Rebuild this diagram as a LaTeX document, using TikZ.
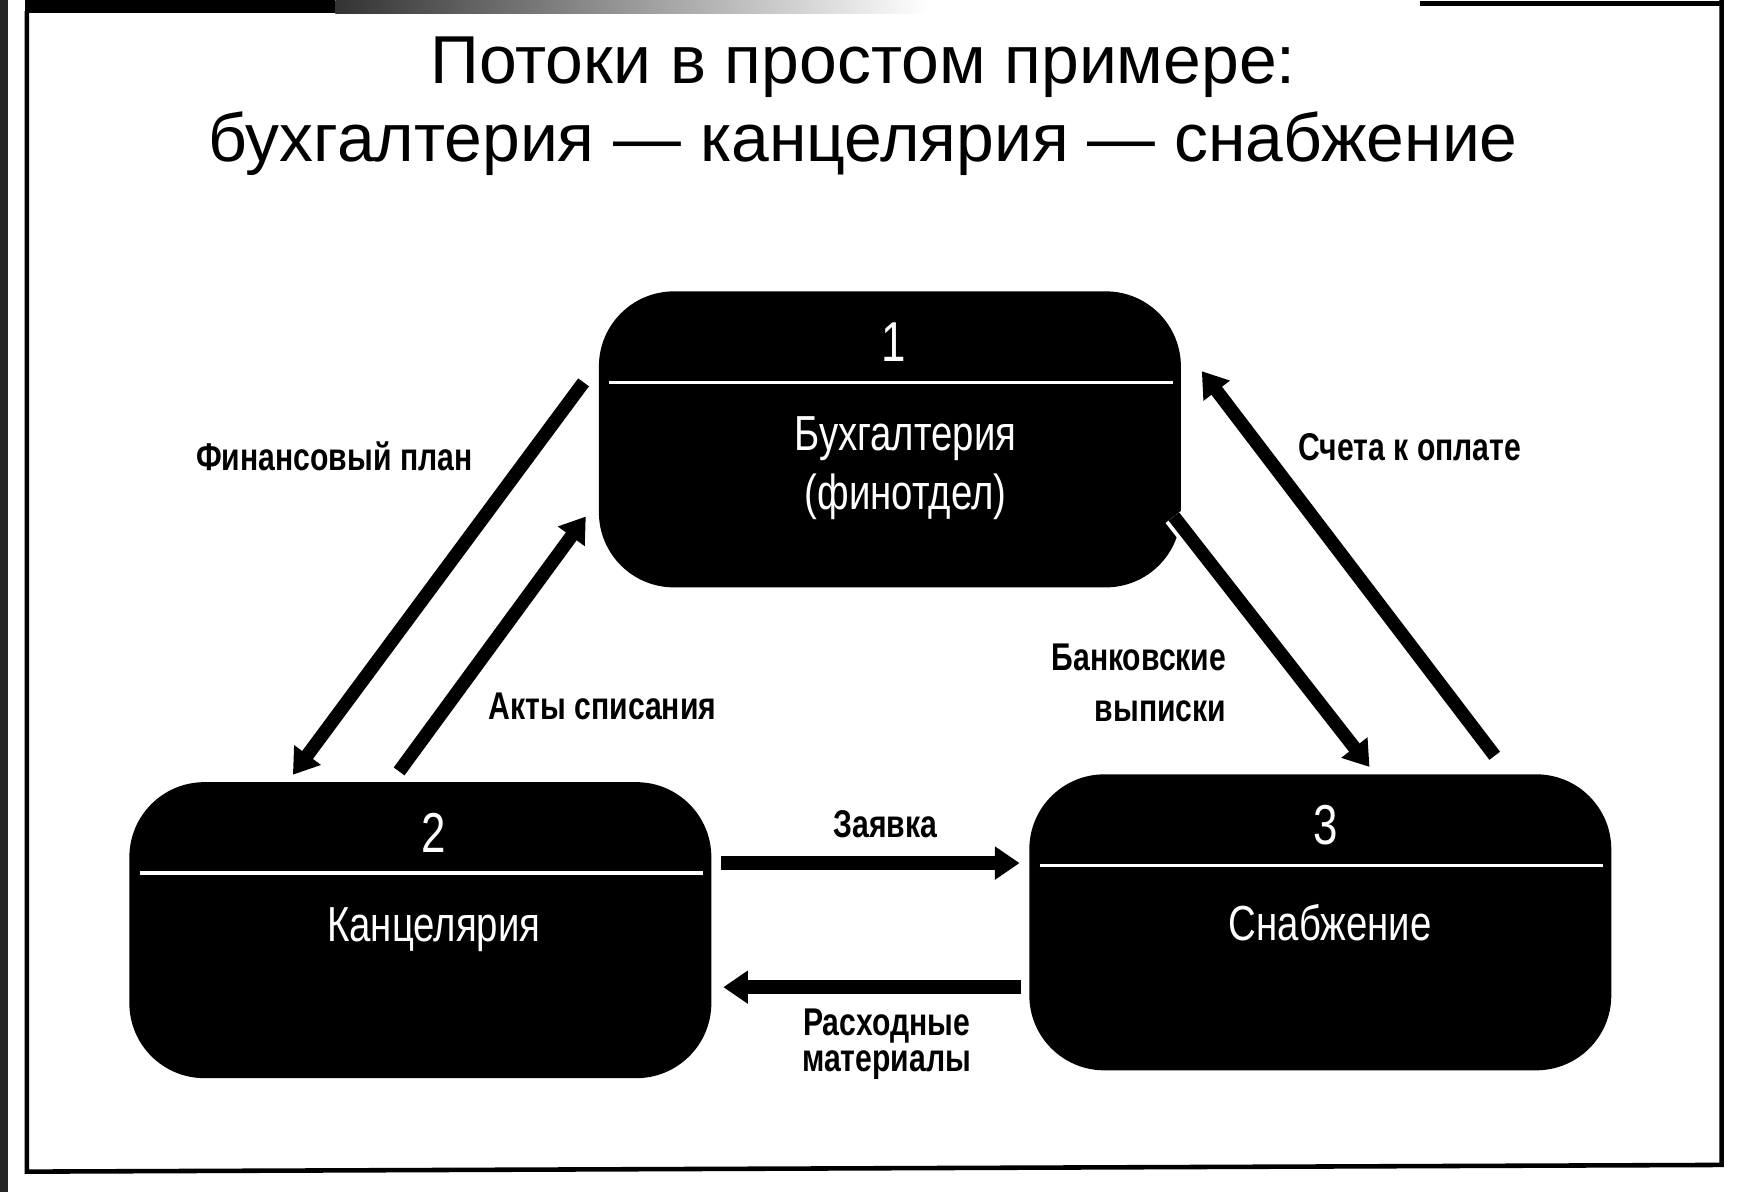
\documentclass[tikz,border=0pt]{standalone}
\usepackage{fontspec}
\setmainfont{Liberation Sans}
\newfontfamily\narrowfont[FakeStretch=0.78]{Liberation Sans}
\usetikzlibrary{arrows.meta,positioning,calc}

\begin{document}
\begin{tikzpicture}[
    x=0.1118mm, y=-0.1118mm,
    procbox/.style={rectangle, rounded corners=7.5mm, fill=black, minimum width=58.2mm, minimum height=29.6mm, inner sep=0pt},
    boxnum/.style={text=white, font=\narrowfont\fontsize{16}{18}\selectfont},
    boxtext/.style={text=white, align=center, font=\narrowfont\fontsize{14}{16.8}\selectfont},
    flowlabel/.style={align=center, font=\narrowfont\bfseries\fontsize{11}{14.6}\selectfont},
    flow/.style={line width=3.8pt, -{Triangle[length=7pt,width=9pt]}},
    outlined/.style={preaction={draw=white, line width=6pt, -}}
]
\useasboundingbox (0,0) rectangle (1560,1066);

% scanned page edges
\fill[black!85] (0,0) rectangle (7,1066);
\fill[black] (22,0) rectangle (300,12);
\shade[left color=black!80, right color=white] (300,0) rectangle (830,12);
\draw[line width=1.3pt] (24,10) -- (24,1048) -- (1540,1042) -- (1540,0);
\draw[line width=1.3pt] (1270,3) -- (1540,3);

% title
\node[align=center, font=\fontsize{19.3}{22}\selectfont] (title) at (772,95)
    {Потоки в простом примере:\\бухгалтерия — канцелярия — снабжение};

% processes
\node[procbox] (b1) at (796,393) {};
\node[procbox] (b2) at (376,832) {};
\node[procbox] (b3) at (1181,825) {};

\foreach \b/\n/\dx in {b1/1/3, b2/2/12, b3/3/5} {
    \draw[white, line width=1pt] ($(\b.north west)+(10,82)$) -- ($(\b.north east)+(-8,82)$);
    \node[boxnum] (\b-num) at ($(\b.north)+(\dx,46)$) {\n};
}
\node[boxtext] (b1-name) at ($(b1.north)+(14,159)$) {Бухгалтерия\\(финотдел)};
\node[boxtext] (b2-name) at ($(b2.north)+(12,133)$) {Канцелярия};
\node[boxtext] (b3-name) at ($(b3.north)+(9,133)$) {Снабжение};

% flow ends
\coordinate (plan-s) at (522,342);  \coordinate (plan-e) at (262,693);
\coordinate (akt-s) at (357,690);   \coordinate (akt-e) at (524,462);
\coordinate (bank-s) at (1050,462); \coordinate (bank-e) at (1225,686);
\coordinate (schet-s) at (1337,676); \coordinate (schet-e) at (1075,332);
\coordinate (zay-s) at (645,772);   \coordinate (zay-e) at (912,772);
\coordinate (rash-s) at (913,883);  \coordinate (rash-e) at (647,883);

\draw[flow] (plan-s) -- (plan-e);
\draw[flow] (akt-s) -- (akt-e);
\draw[flow, outlined] (bank-s) -- (bank-e);
\draw[flow] (schet-s) -- (schet-e);
\draw[flow] (zay-s) -- (zay-e);
\draw[flow] (rash-s) -- (rash-e);

% flow labels
\node[flowlabel] (plan) at (299,408) {Финансовый план};
\node[flowlabel] (akt) at (539,632) {Акты списания};
\node[flowlabel] (schet) at (1261,400) {Счета к оплате};
\node[flowlabel, align=right, anchor=east] (bank) at (1108,611) {Банковские\\выписки};
\node[flowlabel] (zay) at (792,737) {Заявка};
\node[flowlabel, font=\narrowfont\bfseries\fontsize{11}{10.5}\selectfont] (rash) at (793,934) {Расходные\\материалы};
\end{tikzpicture}
\end{document}
